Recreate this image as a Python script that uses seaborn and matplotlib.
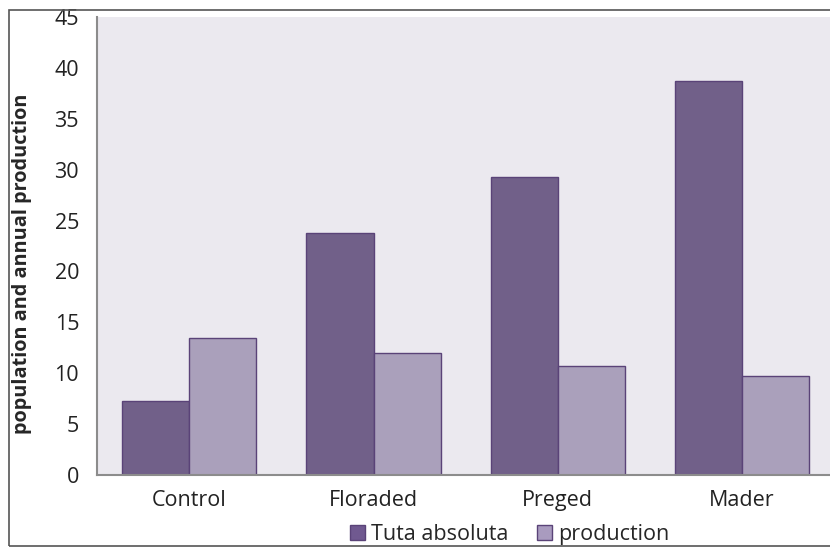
import pandas as pd
import matplotlib.pyplot as plt
import seaborn as sns
from matplotlib.patches import Rectangle, Patch

treatments = ["Control", "Floraded", "Preged", "Mader"]
tuta = [7.3, 23.8, 29.3, 38.7]
production = [13.5, 12.0, 10.7, 9.75]
series = ["Tuta absoluta", "production"]
colors = ["#705990", "#a99bbf"]

df = pd.DataFrame({
    "treatment": treatments * 2,
    "value": tuta + production,
    "series": [series[0]] * 4 + [series[1]] * 4,
})

sns.set_style("white")
plt.rcParams["font.family"] = ["Open Sans", "DejaVu Sans"]

fig = plt.figure(figsize=(8.3, 5.49), dpi=100)
ax = fig.add_axes([0.117, 0.135, 0.888, 0.834])
ax.set_facecolor("#ebe9ef")

sns.barplot(data=df, x="treatment", y="value", hue="series", palette=colors,
            width=0.73, edgecolor="#5a4378", linewidth=1, ax=ax, legend=False)

ax.set_ylim(0, 45)
ax.set_yticks(range(0, 50, 5))
ax.set_xlim(-0.5, 3.5)
ax.set_xlabel("")
ax.set_ylabel("population and annual production", fontsize=14.3, fontweight="bold")
ax.yaxis.set_label_coords(-0.088, 0.46)
ax.tick_params(axis="y", length=0, pad=13, labelsize=15.5, colors="#222222")
ax.tick_params(axis="x", length=0, pad=11, labelsize=15.5, colors="#222222")
for s in ["top", "right"]:
    ax.spines[s].set_visible(False)
for s in ["left", "bottom"]:
    ax.spines[s].set_color("#8c8c8c")
    ax.spines[s].set_linewidth(1.5)

handles = [Patch(facecolor=c, edgecolor="#5a4378", label=l) for c, l in zip(colors, series)]
fig.legend(handles=handles, loc="center", bbox_to_anchor=(0.614, 0.027), ncol=2,
           frameon=False, fontsize=15.5, handlelength=0.7, handleheight=0.7,
           handletextpad=0.3, columnspacing=1.3)

fig.patches.append(Rectangle((0.011, 0.006), 1.1, 0.976, transform=fig.transFigure,
                             fill=False, edgecolor="#555555", linewidth=1.2))

fig.savefig("out.png", dpi=100)
